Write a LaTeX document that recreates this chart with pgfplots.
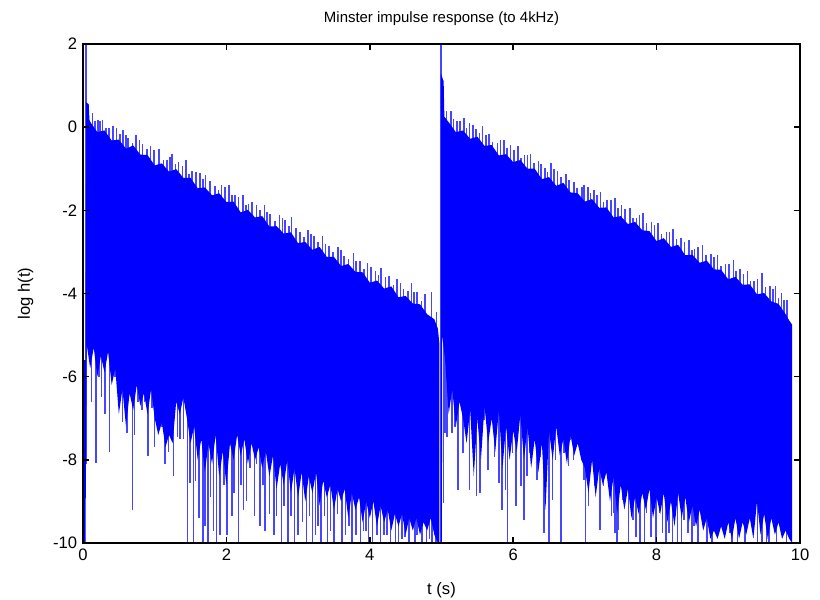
\documentclass[border=0pt]{standalone}
\usepackage{pgfplots}
\pgfplotsset{compat=1.18}
\usepackage{fontspec}
\setmainfont{Liberation Sans}
\definecolor{sigblue}{RGB}{0,0,255}
\definecolor{spkblue}{RGB}{70,70,255}
\pgfplotsset{spk/.style={color=spkblue, draw=spkblue, line width=0.95pt, unbounded coords=jump, mark=none}}
\begin{document}
\begin{tikzpicture}
\path[use as bounding box] (-49.8bp,-34.2bp) rectangle (442.2bp,325.8bp);
\begin{axis}[
  scale only axis, width=430.2bp, height=299.4bp,
  xmin=0, xmax=10, ymin=-10, ymax=2,
  xtick={0,2,4,6,8,10}, ytick={-10,-8,-6,-4,-2,0,2},
  tick align=inside, major tick length=3.5bp,
  axis on top,
  axis line style={line width=0.9pt},
  every tick/.style={black, line width=0.9pt},
  /pgf/number format/assume math mode=true,
  tick label style={font=\fontsize{10}{12}\selectfont},
  title={Minster impulse response (to 4kHz)},
  title style={font=\fontsize{9}{11}\selectfont, yshift=1.5bp},
  xlabel={t (s)}, ylabel={log h(t)},
  label style={font=\fontsize{10}{12}\selectfont},
  xlabel style={yshift=-6bp},
  ylabel style={yshift=5bp},
]
% ---- downward spikes, segment 1 ----
\addplot[spk] coordinates {
(0.045,2.5)(0.045,-8.1)(0.045,nan)
(0.12,-4.5)(0.12,-6.6)(0.12,nan) (0.18,-4.5)(0.18,-8.07)(0.18,nan) (0.22,-4.5)(0.22,-6.0)(0.22,nan)
(0.26,-4.5)(0.26,-6.5)(0.26,nan) (0.31,-4.5)(0.31,-6.9)(0.31,nan) (0.37,-4.5)(0.37,-7.8)(0.37,nan)
(0.40,-4.5)(0.40,-5.9)(0.40,nan) (0.45,-4.5)(0.45,-6.0)(0.45,nan) (0.51,-4.5)(0.51,-6.5)(0.51,nan)
(0.55,-4.5)(0.55,-7.1)(0.55,nan) (0.61,-4.5)(0.61,-7.35)(0.61,nan) (0.69,-4.5)(0.69,-9.2)(0.69,nan)
(0.72,-4.5)(0.72,-7.4)(0.72,nan) (0.77,-4.5)(0.77,-6.6)(0.77,nan) (0.82,-4.5)(0.82,-6.8)(0.82,nan)
(0.86,-4.5)(0.86,-6.6)(0.86,nan) (0.91,-4.5)(0.91,-7.9)(0.91,nan) (0.96,-4.5)(0.96,-6.75)(0.96,nan)
(1.00,-4.5)(1.00,-7.7)(1.00,nan) (1.05,-4.5)(1.05,-7.1)(1.05,nan) (1.10,-4.5)(1.10,-7.2)(1.10,nan)
(1.14,-4.5)(1.14,-8.1)(1.14,nan) (1.19,-4.5)(1.19,-7.8)(1.19,nan) (1.26,-4.5)(1.26,-8.4)(1.26,nan)
(1.32,-4.5)(1.32,-7.45)(1.32,nan) (1.35,-4.5)(1.35,-7.5)(1.35,nan) (1.40,-4.5)(1.40,-7.5)(1.40,nan)
(1.46,-6.5)(1.46,-10)(1.46,nan) (1.49,-6.5)(1.49,-8.55)(1.49,nan) (1.54,-6.5)(1.54,-10)(1.54,nan)
(1.57,-6.5)(1.57,-8.5)(1.57,nan) (1.62,-6.5)(1.62,-9.4)(1.62,nan) (1.67,-6.5)(1.67,-10)(1.67,nan)
(1.70,-6.5)(1.70,-9.6)(1.70,nan) (1.74,-6.5)(1.74,-10)(1.74,nan) (1.78,-6.5)(1.78,-8.9)(1.78,nan)
(1.82,-6.5)(1.82,-9.7)(1.82,nan) (1.86,-6.5)(1.86,-10)(1.86,nan) (1.91,-6.5)(1.91,-9.8)(1.91,nan)
(1.97,-6.5)(1.97,-8.6)(1.97,nan) (2.01,-6.5)(2.01,-9.8)(2.01,nan) (2.08,-6.5)(2.08,-9.35)(2.08,nan)
(2.11,-6.5)(2.11,-8.8)(2.11,nan) (2.17,-6.5)(2.17,-10)(2.17,nan) (2.20,-6.5)(2.20,-8.6)(2.20,nan)
(2.24,-6.5)(2.24,-9.2)(2.24,nan) (2.28,-6.5)(2.28,-9.0)(2.28,nan) (2.33,-6.5)(2.33,-8.2)(2.33,nan)
(2.39,-6.5)(2.39,-9.35)(2.39,nan) (2.42,-6.5)(2.42,-8.1)(2.42,nan) (2.47,-6.5)(2.47,-9.6)(2.47,nan)
(2.51,-6.5)(2.51,-8.6)(2.51,nan) (2.54,-6.5)(2.54,-9.7)(2.54,nan) (2.60,-6.5)(2.60,-9.3)(2.60,nan)
(2.66,-6.5)(2.66,-9.8)(2.66,nan) (2.70,-6.5)(2.70,-9.35)(2.70,nan) (2.77,-6.5)(2.77,-10)(2.77,nan)
(2.80,-6.5)(2.80,-9.1)(2.80,nan) (2.86,-6.5)(2.86,-10)(2.86,nan) (2.90,-6.5)(2.90,-9.35)(2.90,nan)
(2.95,-6.5)(2.95,-10)(2.95,nan) (3.00,-7.5)(3.00,-9.8)(3.00,nan) (3.06,-7.5)(3.06,-9.5)(3.06,nan)
(3.12,-7.5)(3.12,-10)(3.12,nan) (3.16,-7.5)(3.16,-9.35)(3.16,nan) (3.20,-7.5)(3.20,-10)(3.20,nan)
(3.24,-7.5)(3.24,-9.8)(3.24,nan) (3.28,-7.5)(3.28,-9.6)(3.28,nan) (3.32,-7.5)(3.32,-10)(3.32,nan)
(3.37,-7.5)(3.37,-9.35)(3.37,nan) (3.41,-7.5)(3.41,-10)(3.41,nan) (3.45,-7.5)(3.45,-9.7)(3.45,nan)
(3.50,-7.5)(3.50,-10)(3.50,nan) (3.55,-7.5)(3.55,-9.3)(3.55,nan) (3.61,-7.5)(3.61,-10)(3.61,nan)
(3.66,-7.5)(3.66,-9.8)(3.66,nan) (3.71,-7.5)(3.71,-9.6)(3.71,nan) (3.75,-7.5)(3.75,-10)(3.75,nan)
(3.81,-7.5)(3.81,-9.8)(3.81,nan) (3.87,-7.5)(3.87,-10)(3.87,nan) (3.91,-7.5)(3.91,-9.7)(3.91,nan)
(3.95,-7.5)(3.95,-9.7)(3.95,nan) (3.98,-7.5)(3.98,-10)(3.98,nan) (4.04,-7.5)(4.04,-10)(4.04,nan)
(4.10,-7.5)(4.10,-9.8)(4.10,nan) (4.15,-7.5)(4.15,-10)(4.15,nan) (4.20,-7.5)(4.20,-9.8)(4.20,nan)
(4.24,-7.5)(4.24,-9.8)(4.24,nan) (4.29,-7.5)(4.29,-10)(4.29,nan) (4.36,-7.5)(4.36,-10)(4.36,nan)
(4.40,-7.5)(4.40,-10)(4.40,nan) (4.45,-7.5)(4.45,-9.9)(4.45,nan) (4.49,-7.5)(4.49,-9.85)(4.49,nan)
(4.55,-7.5)(4.55,-10)(4.55,nan) (4.63,-7.5)(4.63,-10)(4.63,nan) (4.66,-7.5)(4.66,-9.8)(4.66,nan)
(4.73,-7.5)(4.73,-10)(4.73,nan) (4.79,-7.5)(4.79,-10)(4.79,nan) (4.83,-7.5)(4.83,-9.9)(4.83,nan)
(4.87,-7.5)(4.87,-10)(4.87,nan) (4.92,-7.5)(4.92,-10)(4.92,nan)
};
% ---- downward spikes, segment 2 ----
\addplot[spk] coordinates {
(4.995,2.5)(4.995,-10)(4.995,nan)
(5.03,-4.5)(5.03,-9.04)(5.03,nan) (5.05,-4.5)(5.05,-7.36)(5.05,nan) (5.08,-4.5)(5.08,-7.44)(5.08,nan)
(5.15,-4.5)(5.15,-7.36)(5.15,nan) (5.19,-4.5)(5.19,-7.2)(5.19,nan) (5.23,-4.5)(5.23,-8.72)(5.23,nan)
(5.30,-4.5)(5.30,-7.84)(5.30,nan) (5.39,-4.5)(5.39,-8.72)(5.39,nan) (5.47,-4.5)(5.47,-7.44)(5.47,nan)
(5.49,-4.5)(5.49,-8.88)(5.49,nan) (5.54,-4.5)(5.54,-8.8)(5.54,nan) (5.59,-4.5)(5.59,-7.04)(5.59,nan)
(5.65,-4.5)(5.65,-8.24)(5.65,nan) (5.69,-4.5)(5.69,-7.04)(5.69,nan) (5.74,-4.5)(5.74,-7.92)(5.74,nan)
(5.80,-4.5)(5.80,-8.56)(5.80,nan) (5.84,-4.5)(5.84,-9.2)(5.84,nan) (5.89,-4.5)(5.89,-8.72)(5.89,nan)
(5.92,-4.5)(5.92,-10)(5.92,nan) (5.95,-4.5)(5.95,-7.76)(5.95,nan) (5.99,-4.5)(5.99,-7.84)(5.99,nan)
(6.04,-4.5)(6.04,-9.12)(6.04,nan) (6.07,-4.5)(6.07,-7.28)(6.07,nan) (6.11,-4.5)(6.11,-8.64)(6.11,nan)
(6.15,-4.5)(6.15,-9.44)(6.15,nan) (6.19,-4.5)(6.19,-8.4)(6.19,nan) (6.23,-4.5)(6.23,-7.84)(6.23,nan)
(6.28,-4.5)(6.28,-7.44)(6.28,nan) (6.33,-4.5)(6.33,-8.48)(6.33,nan) (6.37,-4.5)(6.37,-7.92)(6.37,nan)
(6.43,-4.5)(6.43,-9.77)(6.43,nan) (6.47,-4.5)(6.47,-7.44)(6.47,nan) (6.50,-4.5)(6.50,-10)(6.50,nan)
(6.55,-4.5)(6.55,-8.96)(6.55,nan) (6.59,-4.5)(6.59,-8.0)(6.59,nan) (6.63,-4.5)(6.63,-7.2)(6.63,nan)
(6.67,-4.5)(6.67,-10)(6.67,nan) (6.71,-4.5)(6.71,-7.84)(6.71,nan) (6.77,-4.5)(6.77,-8.16)(6.77,nan)
(6.79,-4.5)(6.79,-7.52)(6.79,nan) (6.84,-4.5)(6.84,-8.0)(6.84,nan) (6.88,-4.5)(6.88,-7.68)(6.88,nan)
(6.95,-4.5)(6.95,-7.92)(6.95,nan) (6.99,-4.5)(6.99,-8.48)(6.99,nan) (7.01,-7.5)(7.01,-10)(7.01,nan)
(7.05,-7.5)(7.05,-9.12)(7.05,nan) (7.14,-7.5)(7.14,-8.64)(7.14,nan) (7.19,-7.5)(7.19,-7.92)(7.19,nan)
(7.21,-7.5)(7.21,-9.68)(7.21,nan) (7.26,-7.5)(7.26,-8.64)(7.26,nan) (7.30,-7.5)(7.30,-8.32)(7.30,nan)
(7.34,-7.5)(7.34,-7.84)(7.34,nan) (7.37,-7.5)(7.37,-9.36)(7.37,nan) (7.40,-7.5)(7.40,-9.28)(7.40,nan)
(7.42,-7.5)(7.42,-9.77)(7.42,nan) (7.45,-7.5)(7.45,-10)(7.45,nan) (7.47,-7.5)(7.47,-9.68)(7.47,nan)
(7.53,-7.5)(7.53,-8.96)(7.53,nan) (7.56,-7.5)(7.56,-8.8)(7.56,nan) (7.61,-7.5)(7.61,-10)(7.61,nan)
(7.67,-7.5)(7.67,-9.44)(7.67,nan) (7.71,-7.5)(7.71,-9.85)(7.71,nan) (7.77,-7.5)(7.77,-10)(7.77,nan)
(7.83,-7.5)(7.83,-10)(7.83,nan) (7.86,-7.5)(7.86,-9.28)(7.86,nan) (7.92,-7.5)(7.92,-9.85)(7.92,nan)
(7.95,-7.5)(7.95,-8.96)(7.95,nan) (7.99,-7.5)(7.99,-10)(7.99,nan) (8.04,-7.5)(8.04,-9.28)(8.04,nan)
(8.08,-7.5)(8.08,-9.77)(8.08,nan) (8.13,-7.5)(8.13,-10)(8.13,nan) (8.17,-7.5)(8.17,-9.77)(8.17,nan)
(8.22,-7.5)(8.22,-10)(8.22,nan) (8.26,-7.5)(8.26,-9.36)(8.26,nan) (8.29,-7.5)(8.29,-10)(8.29,nan)
(8.35,-7.5)(8.35,-10)(8.35,nan) (8.38,-7.5)(8.38,-9.44)(8.38,nan) (8.44,-7.5)(8.44,-9.77)(8.44,nan)
(8.49,-7.5)(8.49,-10)(8.49,nan) (8.52,-7.5)(8.52,-9.6)(8.52,nan) (8.58,-7.5)(8.58,-10)(8.58,nan)
(8.64,-7.5)(8.64,-9.36)(8.64,nan) (8.70,-7.5)(8.70,-10)(8.70,nan) (8.77,-7.5)(8.77,-10)(8.77,nan)
(8.83,-7.5)(8.83,-9.77)(8.83,nan) (9.02,-7.5)(9.02,-9.77)(9.02,nan) (9.05,-7.5)(9.05,-10)(9.05,nan)
(9.13,-7.5)(9.13,-10)(9.13,nan) (9.23,-7.5)(9.23,-10)(9.23,nan) (9.41,-7.5)(9.41,-10)(9.41,nan)
(9.47,-7.5)(9.47,-10)(9.47,nan) (9.53,-7.5)(9.53,-10)(9.53,nan) (9.57,-7.5)(9.57,-10)(9.57,nan)
(9.67,-7.5)(9.67,-10)(9.67,nan) (9.81,-7.5)(9.81,-10)(9.81,nan)
};
% ---- upward spikes, segment 1 ----
\addplot[spk] coordinates {
(0.13,-0.15)(0.13,0.35)(0.13,nan) (0.21,-0.23)(0.21,0.17)(0.21,nan) (0.27,-0.28)(0.27,0.17)(0.27,nan)
(0.36,-0.37)(0.36,-0.02)(0.36,nan) (0.47,-0.47)(0.47,-0.02)(0.47,nan) (0.56,-0.56)(0.56,-0.06)(0.56,nan)
(0.63,-0.62)(0.63,-0.27)(0.63,nan) (0.74,-0.73)(0.74,-0.18)(0.74,nan) (0.83,-0.81)(0.83,-0.41)(0.83,nan)
(0.94,-0.91)(0.94,-0.46)(0.94,nan) (1.06,-1.03)(1.06,-0.53)(1.06,nan) (1.17,-1.13)(1.17,-0.78)(1.17,nan)
(1.24,-1.20)(1.24,-0.65)(1.24,nan) (1.33,-1.28)(1.33,-0.83)(1.33,nan) (1.44,-1.38)(1.44,-0.78)(1.44,nan)
(1.52,-1.46)(1.52,-1.06)(1.52,nan) (1.63,-1.56)(1.63,-1.11)(1.63,nan) (1.71,-1.64)(1.71,-1.14)(1.71,nan)
(1.84,-1.76)(1.84,-1.41)(1.84,nan) (1.93,-1.84)(1.93,-1.39)(1.93,nan) (2.04,-1.95)(2.04,-1.40)(2.04,nan)
(2.12,-2.02)(2.12,-1.62)(2.12,nan) (2.23,-2.13)(2.23,-1.63)(2.23,nan) (2.31,-2.20)(2.31,-1.85)(2.31,nan)
(2.42,-2.31)(2.42,-1.86)(2.42,nan) (2.53,-2.41)(2.53,-1.86)(2.53,nan) (2.61,-2.48)(2.61,-2.08)(2.61,nan)
(2.74,-2.61)(2.74,-2.11)(2.74,nan) (2.82,-2.68)(2.82,-2.23)(2.82,nan) (2.91,-2.77)(2.91,-2.17)(2.91,nan)
(3.03,-2.88)(3.03,-2.53)(3.03,nan) (3.14,-2.98)(3.14,-2.48)(3.14,nan) (3.22,-3.06)(3.22,-2.61)(3.22,nan)
(3.34,-3.17)(3.34,-2.62)(3.34,nan) (3.43,-3.25)(3.43,-2.85)(3.43,nan) (3.56,-3.38)(3.56,-2.88)(3.56,nan)
(3.64,-3.45)(3.64,-3.10)(3.64,nan) (3.77,-3.57)(3.77,-3.02)(3.77,nan) (3.86,-3.66)(3.86,-3.21)(3.86,nan)
(3.97,-3.76)(3.97,-3.26)(3.97,nan) (4.08,-3.87)(4.08,-3.47)(4.08,nan) (4.16,-3.94)(4.16,-3.39)(4.16,nan)
(4.27,-4.04)(4.27,-3.59)(4.27,nan) (4.38,-4.15)(4.38,-3.65)(4.38,nan) (4.47,-4.23)(4.47,-3.88)(4.47,nan)
(4.58,-4.34)(4.58,-3.74)(4.58,nan) (4.66,-4.41)(4.66,-3.96)(4.66,nan) (4.77,-4.51)(4.77,-4.01)(4.77,nan)
(4.86,-4.75)(4.86,-3.97)(4.86,nan) (4.93,-4.90)(4.93,-4.45)(4.93,nan)
(0.17,-0.24)(0.17,0.16)(0.17,nan) (0.24,-0.31)(0.24,0.14)(0.24,nan) (0.32,-0.38)(0.32,-0.03)(0.32,nan)
(0.42,-0.48)(0.42,0.03)(0.42,nan) (0.52,-0.57)(0.52,-0.17)(0.52,nan) (0.60,-0.64)(0.60,-0.19)(0.60,nan)
(0.69,-0.73)(0.69,-0.38)(0.69,nan) (0.79,-0.82)(0.79,-0.32)(0.79,nan) (0.89,-0.92)(0.89,-0.52)(0.89,nan)
(0.99,-1.01)(0.99,-0.56)(0.99,nan) (1.12,-1.13)(1.12,-0.78)(1.12,nan) (1.21,-1.22)(1.21,-0.72)(1.21,nan)
(1.29,-1.29)(1.29,-0.89)(1.29,nan) (1.39,-1.39)(1.39,-0.94)(1.39,nan) (1.48,-1.47)(1.48,-1.12)(1.48,nan)
(1.58,-1.57)(1.58,-1.07)(1.58,nan) (1.67,-1.65)(1.67,-1.25)(1.67,nan) (1.77,-1.74)(1.77,-1.29)(1.77,nan)
(1.89,-1.86)(1.89,-1.51)(1.89,nan) (1.98,-1.94)(1.98,-1.44)(1.98,nan) (2.08,-2.04)(2.08,-1.64)(2.08,nan)
(2.17,-2.12)(2.17,-1.67)(2.17,nan) (2.27,-2.21)(2.27,-1.86)(2.27,nan) (2.36,-2.30)(2.36,-1.80)(2.36,nan)
(2.47,-2.40)(2.47,-2.00)(2.47,nan) (2.57,-2.50)(2.57,-2.05)(2.57,nan) (2.68,-2.60)(2.68,-2.25)(2.68,nan)
(2.78,-2.69)(2.78,-2.19)(2.78,nan) (2.87,-2.78)(2.87,-2.38)(2.87,nan) (2.97,-2.87)(2.97,-2.42)(2.97,nan)
(3.08,-2.98)(3.08,-2.63)(3.08,nan) (3.18,-3.07)(3.18,-2.57)(3.18,nan) (3.28,-3.16)(3.28,-2.76)(3.28,nan)
(3.38,-3.26)(3.38,-2.81)(3.38,nan) (3.49,-3.36)(3.49,-3.01)(3.49,nan) (3.60,-3.46)(3.60,-2.96)(3.60,nan)
(3.70,-3.56)(3.70,-3.16)(3.70,nan) (3.81,-3.66)(3.81,-3.21)(3.81,nan) (3.92,-3.77)(3.92,-3.42)(3.92,nan)
(4.02,-3.86)(4.02,-3.36)(4.02,nan) (4.12,-3.95)(4.12,-3.55)(4.12,nan) (4.22,-4.05)(4.22,-3.60)(4.22,nan)
(4.33,-4.15)(4.33,-3.80)(4.33,nan) (4.43,-4.24)(4.43,-3.74)(4.43,nan) (4.53,-4.34)(4.53,-3.94)(4.53,nan)
(4.62,-4.42)(4.62,-3.97)(4.62,nan) (4.72,-4.52)(4.72,-4.17)(4.72,nan)
};
% ---- upward spikes, segment 2 ----
\addplot[spk] coordinates {
(5.07,-0.07)(5.07,0.39)(5.07,nan) (5.13,-0.12)(5.13,0.38)(5.13,nan) (5.22,-0.20)(5.22,0.15)(5.22,nan)
(5.31,-0.29)(5.31,0.21)(5.31,nan) (5.39,-0.36)(5.39,0.09)(5.39,nan) (5.48,-0.45)(5.48,-0.05)(5.48,nan)
(5.57,-0.53)(5.57,0.02)(5.57,nan) (5.66,-0.61)(5.66,-0.16)(5.66,nan) (5.78,-0.73)(5.78,-0.38)(5.78,nan)
(5.87,-0.81)(5.87,-0.31)(5.87,nan) (5.96,-0.89)(5.96,-0.44)(5.96,nan) (6.07,-1.00)(6.07,-0.45)(6.07,nan)
(6.16,-1.08)(6.16,-0.68)(6.16,nan) (6.24,-1.15)(6.24,-0.65)(6.24,nan) (6.35,-1.26)(6.35,-0.81)(6.35,nan)
(6.44,-1.34)(6.44,-0.99)(6.44,nan) (6.53,-1.42)(6.53,-0.87)(6.53,nan) (6.62,-1.51)(6.62,-1.06)(6.62,nan)
(6.74,-1.62)(6.74,-1.12)(6.74,nan) (6.85,-1.72)(6.85,-1.32)(6.85,nan) (6.96,-1.81)(6.96,-1.44)(6.96,nan)
(7.04,-1.90)(7.04,-1.45)(7.04,nan) (7.13,-1.98)(7.13,-1.50)(7.13,nan) (7.22,-2.06)(7.22,-1.56)(7.22,nan)
(7.31,-2.15)(7.31,-1.75)(7.31,nan) (7.42,-2.25)(7.42,-1.70)(7.42,nan) (7.51,-2.33)(7.51,-1.88)(7.51,nan)
(7.63,-2.45)(7.63,-1.95)(7.63,nan) (7.72,-2.53)(7.72,-2.18)(7.72,nan) (7.81,-2.61)(7.81,-2.06)(7.81,nan)
(7.93,-2.72)(7.93,-2.27)(7.93,nan) (8.02,-2.81)(8.02,-2.31)(8.02,nan) (8.14,-2.92)(8.14,-2.52)(8.14,nan)
(8.23,-3.00)(8.23,-2.45)(8.23,nan) (8.34,-3.11)(8.34,-2.66)(8.34,nan) (8.45,-3.21)(8.45,-2.71)(8.45,nan)
(8.53,-3.28)(8.53,-2.93)(8.53,nan) (8.64,-3.39)(8.64,-2.84)(8.64,nan) (8.76,-3.50)(8.76,-3.05)(8.76,nan)
(8.85,-3.58)(8.85,-3.08)(8.85,nan) (8.96,-3.68)(8.96,-3.28)(8.96,nan) (9.07,-3.79)(9.07,-3.19)(9.07,nan)
(9.16,-3.87)(9.16,-3.42)(9.16,nan) (9.27,-3.97)(9.27,-3.47)(9.27,nan) (9.36,-4.05)(9.36,-3.70)(9.36,nan)
(9.47,-4.16)(9.47,-3.51)(9.47,nan) (9.58,-4.26)(9.58,-3.81)(9.58,nan) (9.66,-4.33)(9.66,-3.83)(9.66,nan)
(9.74,-4.45)(9.74,-4.00)(9.74,nan) (9.82,-4.65)(9.82,-4.15)(9.82,nan)
(5.17,-0.21)(5.17,0.19)(5.17,nan) (5.26,-0.29)(5.26,0.16)(5.26,nan) (5.35,-0.38)(5.35,-0.03)(5.35,nan)
(5.44,-0.46)(5.44,0.04)(5.44,nan) (5.53,-0.54)(5.53,-0.14)(5.53,nan) (5.62,-0.63)(5.62,-0.18)(5.62,nan)
(5.71,-0.71)(5.71,-0.36)(5.71,nan) (5.82,-0.81)(5.82,-0.31)(5.82,nan) (5.91,-0.90)(5.91,-0.50)(5.91,nan)
(6.01,-0.99)(6.01,-0.54)(6.01,nan) (6.11,-1.08)(6.11,-0.73)(6.11,nan) (6.20,-1.17)(6.20,-0.67)(6.20,nan)
(6.29,-1.25)(6.29,-0.85)(6.29,nan) (6.39,-1.34)(6.39,-0.89)(6.39,nan) (6.48,-1.43)(6.48,-1.08)(6.48,nan)
(6.57,-1.51)(6.57,-1.01)(6.57,nan) (6.67,-1.60)(6.67,-1.20)(6.67,nan) (6.78,-1.71)(6.78,-1.26)(6.78,nan)
(6.89,-1.81)(6.89,-1.46)(6.89,nan) (6.99,-1.90)(6.99,-1.40)(6.99,nan) (7.08,-1.98)(7.08,-1.58)(7.08,nan)
(7.17,-2.07)(7.17,-1.62)(7.17,nan) (7.26,-2.15)(7.26,-1.80)(7.26,nan) (7.36,-2.25)(7.36,-1.75)(7.36,nan)
(7.46,-2.34)(7.46,-1.94)(7.46,nan) (7.56,-2.43)(7.56,-1.98)(7.56,nan) (7.67,-2.53)(7.67,-2.18)(7.67,nan)
(7.76,-2.62)(7.76,-2.12)(7.76,nan) (7.86,-2.71)(7.86,-2.31)(7.86,nan) (7.97,-2.81)(7.97,-2.36)(7.97,nan)
(8.07,-2.91)(8.07,-2.56)(8.07,nan) (8.18,-3.01)(8.18,-2.51)(8.18,nan) (8.28,-3.10)(8.28,-2.70)(8.28,nan)
(8.39,-3.20)(8.39,-2.75)(8.39,nan) (8.49,-3.30)(8.49,-2.95)(8.49,nan) (8.58,-3.38)(8.58,-2.88)(8.58,nan)
(8.69,-3.48)(8.69,-3.08)(8.69,nan) (8.80,-3.58)(8.80,-3.13)(8.80,nan) (8.90,-3.68)(8.90,-3.33)(8.90,nan)
(9.01,-3.78)(9.01,-3.28)(9.01,nan) (9.11,-3.87)(9.11,-3.47)(9.11,nan) (9.21,-3.97)(9.21,-3.52)(9.21,nan)
(9.31,-4.06)(9.31,-3.71)(9.31,nan) (9.41,-4.15)(9.41,-3.65)(9.41,nan) (9.52,-4.25)(9.52,-3.85)(9.52,nan)
(9.62,-4.35)(9.62,-3.90)(9.62,nan) (9.70,-4.45)(9.70,-4.10)(9.70,nan) (9.78,-4.65)(9.78,-4.15)(9.78,nan)
};
% ---- solid body, segment 1: upper edge forward, lower edge backward ----
\addplot[fill=sigblue, draw=none, mark=none] coordinates {
(0.0,-5.6)(0.035,-5.6)(0.045,0.6)(0.08,0.55)(0.09,0.18)(0.10,0.13)(0.20,-0.12)(0.30,-0.08)(0.40,-0.32)(0.50,-0.30)
(0.60,-0.52)(0.70,-0.44)(0.80,-0.66)(0.90,-0.67)(1.00,-0.92)(1.10,-0.87)(1.20,-1.07)(1.30,-1.01)(1.40,-1.22)(1.50,-1.22)
(1.60,-1.47)(1.70,-1.45)(1.80,-1.64)(1.90,-1.59)(2.00,-1.80)(2.10,-1.79)(2.20,-2.05)(2.30,-1.99)(2.40,-2.17)(2.50,-2.14)
(2.60,-2.39)(2.70,-2.38)(2.80,-2.56)(2.90,-2.53)(3.00,-2.79)(3.10,-2.76)(3.20,-2.95)(3.30,-2.88)(3.40,-3.12)(3.50,-3.12)
(3.60,-3.34)(3.70,-3.29)(3.80,-3.48)(3.90,-3.49)(4.00,-3.74)(4.10,-3.69)(4.20,-3.88)(4.30,-3.83)(4.40,-4.09)(4.50,-4.06)
(4.60,-4.24)(4.70,-4.26)(4.80,-4.50)(4.90,-4.62)(4.95,-4.85)(4.97,-5.2)
(4.97,-10)(4.95,-10)(4.90,-9.8)(4.85,-9.4)(4.80,-9.7)(4.75,-9.5)(4.70,-9.8)(4.65,-9.4)(4.60,-9.7)(4.55,-9.4)(4.50,-9.8)
(4.45,-9.3)(4.40,-9.6)(4.35,-9.3)(4.30,-9.7)(4.25,-9.2)(4.20,-9.5)(4.15,-9.1)(4.10,-9.6)(4.05,-9.0)(4.00,-9.4)
(3.95,-9.0)(3.90,-9.5)(3.85,-8.9)(3.80,-9.2)(3.75,-8.8)(3.70,-9.4)(3.65,-8.7)(3.60,-9.0)(3.55,-8.7)(3.50,-9.2)
(3.45,-8.6)(3.40,-8.9)(3.35,-8.5)(3.30,-9.1)(3.25,-8.3)(3.20,-8.8)(3.15,-8.4)(3.10,-9.0)(3.05,-8.3)(3.00,-8.9)
(2.95,-8.2)(2.90,-8.8)(2.85,-8.0)(2.80,-8.6)(2.75,-8.1)(2.70,-8.7)(2.65,-7.9)(2.60,-8.4)(2.55,-7.8)(2.50,-8.2)
(2.45,-7.7)(2.40,-8.0)(2.35,-7.6)(2.30,-8.1)(2.25,-7.5)(2.20,-7.9)(2.15,-7.4)(2.10,-8.0)(2.05,-7.6)(2.00,-8.6)
(1.95,-7.8)(1.90,-8.4)(1.85,-7.4)(1.80,-8.1)(1.75,-7.6)(1.70,-8.3)(1.65,-7.5)(1.60,-8.0)(1.55,-7.2)(1.50,-7.6)
(1.45,-7.0)(1.40,-6.5)(1.35,-6.9)(1.30,-6.6)(1.25,-7.6)(1.20,-7.4)(1.15,-7.7)(1.10,-7.1)(1.05,-7.4)(1.00,-7.0)
(0.95,-6.3)(0.90,-6.9)(0.85,-6.4)(0.80,-6.7)(0.75,-6.2)(0.70,-6.8)(0.65,-6.4)(0.60,-7.2)(0.55,-6.3)(0.50,-6.9)
(0.45,-5.8)(0.40,-6.2)(0.35,-5.4)(0.30,-5.9)(0.25,-5.5)(0.20,-6.0)(0.15,-5.3)(0.10,-5.8)(0.05,-5.2)(0.035,-10)(0.0,-10)
} -- cycle;
% ---- solid body, segment 2 ----
\addplot[fill=sigblue, draw=none, mark=none] coordinates {
(4.99,1.3)(5.03,1.1)(5.04,0.25)(5.10,0.12)(5.20,-0.12)(5.30,-0.08)(5.40,-0.28)(5.50,-0.23)(5.60,-0.45)(5.70,-0.43)
(5.80,-0.68)(5.90,-0.65)(6.00,-0.84)(6.10,-0.79)(6.20,-1.00)(6.30,-1.00)(6.40,-1.25)(6.50,-1.20)(6.60,-1.41)(6.70,-1.34)
(6.80,-1.57)(6.90,-1.59)(7.00,-1.79)(7.10,-1.73)(7.20,-1.94)(7.30,-1.93)(7.40,-2.17)(7.50,-2.14)(7.60,-2.33)(7.70,-2.28)
(7.80,-2.48)(7.90,-2.50)(8.00,-2.74)(8.10,-2.67)(8.20,-2.88)(8.30,-2.83)(8.40,-3.08)(8.50,-3.07)(8.60,-3.26)(8.70,-3.21)
(8.80,-3.42)(8.90,-3.43)(9.00,-3.66)(9.10,-3.60)(9.20,-3.79)(9.30,-3.78)(9.40,-4.02)(9.50,-3.99)(9.60,-4.19)(9.70,-4.25)
(9.80,-4.50)(9.85,-4.65)(9.89,-4.75)
(9.89,-10)(9.85,-9.9)(9.80,-9.7)(9.75,-9.9)(9.70,-9.5)(9.65,-9.8)(9.60,-9.4)(9.55,-9.9)(9.50,-9.3)(9.45,-9.8)
(9.40,-9.0)(9.35,-9.9)(9.30,-9.4)(9.25,-9.8)(9.20,-9.5)(9.15,-9.9)(9.10,-9.4)(9.05,-9.9)(9.00,-9.5)(8.95,-9.9)
(8.90,-9.6)(8.85,-9.9)(8.80,-9.7)(8.75,-9.9)(8.70,-9.4)(8.65,-9.7)(8.60,-9.2)(8.55,-9.6)(8.50,-9.1)(8.45,-9.5)
(8.40,-8.9)(8.35,-9.4)(8.30,-8.8)(8.25,-9.6)(8.20,-9.0)(8.15,-9.5)(8.10,-8.8)(8.05,-9.3)(8.00,-8.9)(7.95,-9.4)
(7.90,-8.7)(7.85,-9.2)(7.80,-8.8)(7.75,-9.3)(7.70,-8.9)(7.65,-9.4)(7.60,-8.7)(7.55,-9.2)(7.50,-8.6)(7.45,-9.3)
(7.40,-8.4)(7.35,-9.0)(7.30,-8.3)(7.25,-8.6)(7.20,-8.2)(7.15,-8.9)(7.10,-8.0)(7.05,-8.8)(7.00,-8.2)(6.95,-8.0)
(6.90,-7.6)(6.85,-7.9)(6.80,-7.4)(6.75,-8.1)(6.70,-7.5)(6.65,-7.9)(6.60,-7.2)(6.55,-8.0)(6.50,-7.3)(6.45,-9.2)
(6.40,-7.6)(6.35,-8.3)(6.30,-7.5)(6.25,-8.2)(6.20,-7.2)(6.15,-8.0)(6.10,-6.9)(6.05,-7.8)(6.00,-7.3)(5.95,-8.0)
(5.90,-7.2)(5.85,-8.2)(5.80,-6.8)(5.75,-7.8)(5.70,-7.0)(5.65,-7.6)(5.60,-6.7)(5.55,-8.0)(5.50,-7.0)(5.45,-8.4)
(5.40,-6.8)(5.35,-7.6)(5.30,-7.0)(5.25,-6.6)(5.20,-7.2)(5.15,-6.3)(5.10,-6.9)(5.05,-5.6)(5.01,-5.0)(5.005,-10)(4.99,-10)
} -- cycle;
\end{axis}
\end{tikzpicture}
\end{document}
